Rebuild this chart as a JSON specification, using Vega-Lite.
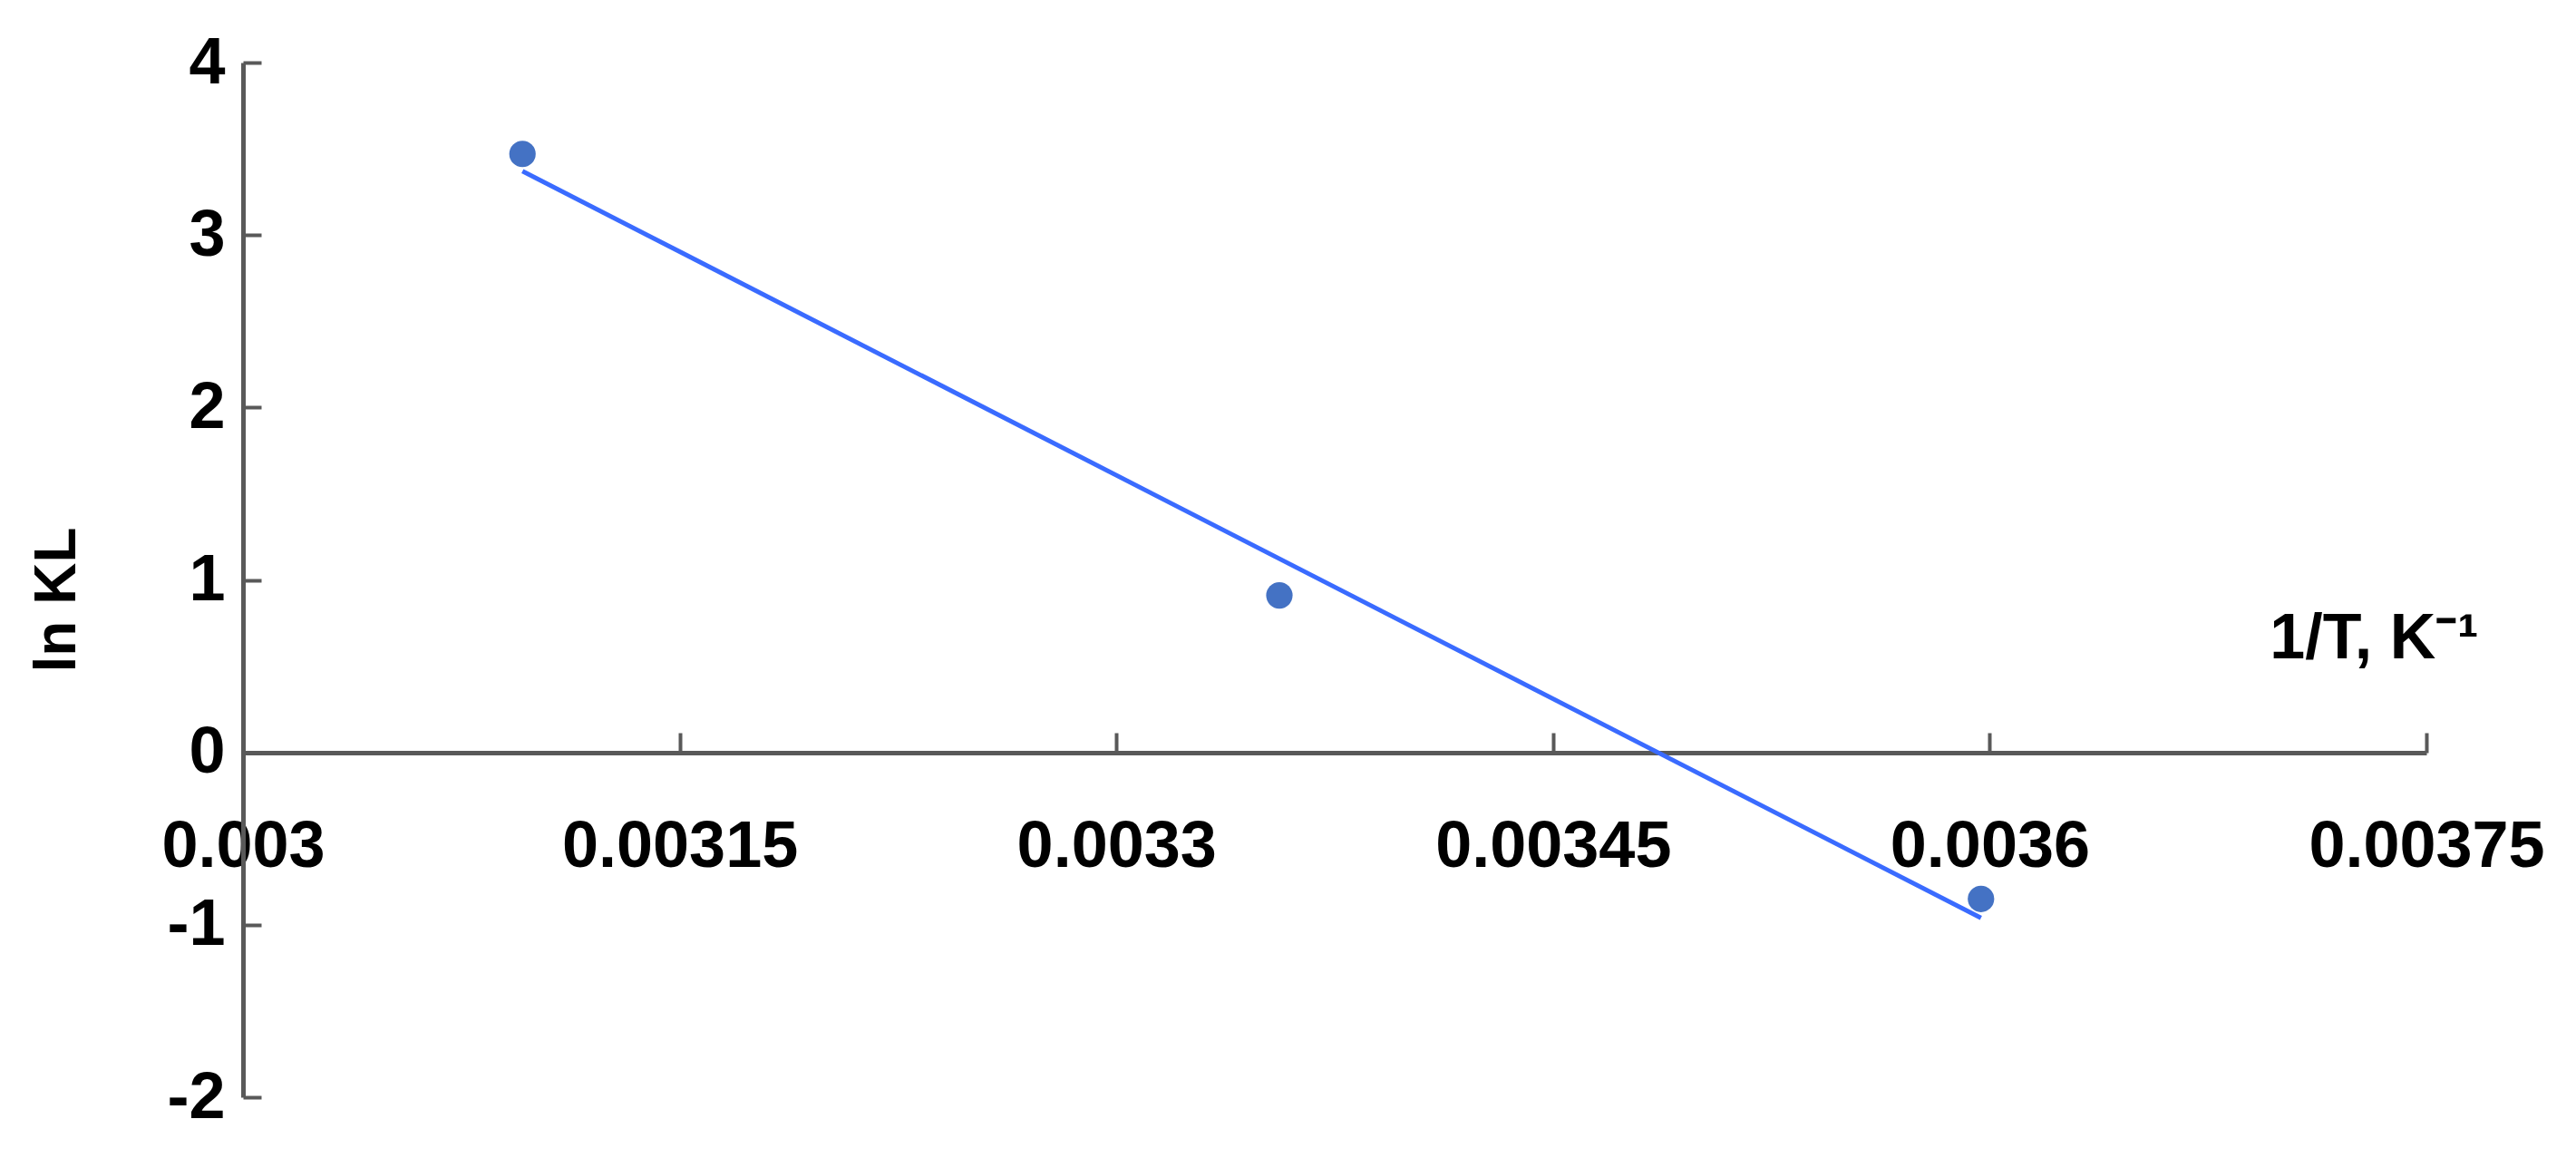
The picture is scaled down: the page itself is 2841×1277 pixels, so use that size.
{
  "$schema": "https://vega.github.io/schema/vega-lite/v6.json",
  "autosize": "none",
  "width": 2408,
  "height": 1141,
  "padding": {"left": 268, "top": 69, "right": 165, "bottom": 67},
  "background": "white",
  "config": {
    "view": {"stroke": null},
    "font": "Liberation Sans"
  },
  "datasets": {
    "points": [
      {"invT": 0.003096, "lnKL": 3.47},
      {"invT": 0.003356, "lnKL": 0.91},
      {"invT": 0.003597, "lnKL": -0.85}
    ],
    "fit": [
      {"invT": 0.003096, "lnKL": 3.37},
      {"invT": 0.003597, "lnKL": -0.96}
    ]
  },
  "encoding": {
    "x": {
      "field": "invT",
      "type": "quantitative",
      "scale": {"domain": [0.003, 0.00375], "nice": false, "zero": false},
      "axis": {
        "orient": "bottom",
        "offset": -380,
        "values": [0.003, 0.00315, 0.0033, 0.00345, 0.0036, 0.00375],
        "format": ".5~f",
        "grid": false,
        "domainColor": "#595959",
        "domainWidth": 5,
        "tickColor": "#595959",
        "tickWidth": 4,
        "tickSize": -22,
        "labelPadding": 90,
        "labelBaseline": "top",
        "labelFont": "Liberation Sans",
        "labelFontSize": 72,
        "labelFontWeight": "bold",
        "labelColor": "black",
        "labelLimit": 0,
        "labelFlush": false,
        "labelOverlap": false,
        "title": "1/T, K⁻¹",
        "titleFont": "Liberation Sans",
        "titleFontSize": 70,
        "titleFontWeight": "bold",
        "titleColor": "black",
        "titleAlign": "right",
        "titleAnchor": null,
        "titleBaseline": "alphabetic",
        "titleX": 2465,
        "titleY": -105
      }
    },
    "y": {
      "field": "lnKL",
      "type": "quantitative",
      "scale": {"domain": [-2, 4], "nice": false, "zero": false},
      "axis": {
        "values": [-2, -1, 0, 1, 2, 3, 4],
        "grid": false,
        "domainColor": "#595959",
        "domainWidth": 5,
        "tickColor": "#595959",
        "tickWidth": 4,
        "tickSize": -20,
        "labelPadding": 40,
        "labelExpr": "datum.value < 0 ? '-' + abs(datum.value) : datum.label",
        "labelFont": "Liberation Sans",
        "labelFontSize": 72,
        "labelFontWeight": "bold",
        "labelColor": "black",
        "labelLimit": 0,
        "labelFlush": false,
        "labelOverlap": false,
        "title": "ln KL",
        "titleFont": "Liberation Sans",
        "titleFontSize": 64,
        "titleFontWeight": "bold",
        "titleColor": "black",
        "titleAngle": -90,
        "titleAnchor": null,
        "titleAlign": "center",
        "titleBaseline": "middle",
        "titleX": -205,
        "titleY": 592
      }
    }
  },
  "layer": [
    {
      "data": {"name": "fit"},
      "mark": {"type": "line", "color": "#3A6BFF", "strokeWidth": 5}
    },
    {
      "data": {"name": "points"},
      "mark": {"type": "point", "filled": true, "shape": "circle", "size": 850, "color": "#4472C4", "opacity": 1}
    }
  ]
}
